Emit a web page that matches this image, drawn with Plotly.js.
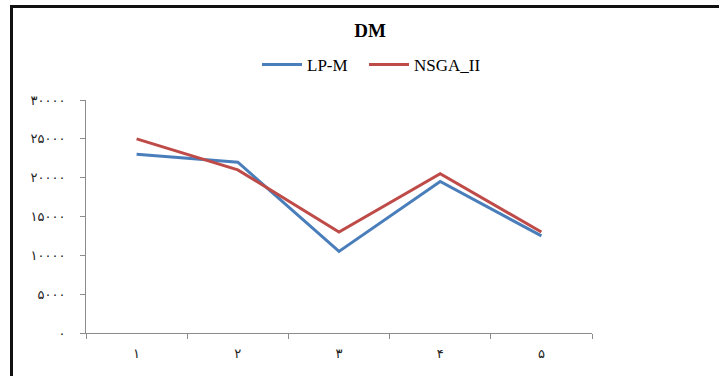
<!DOCTYPE html>
<html>
<head>
<meta charset="utf-8">
<script src="https://cdn.plot.ly/plotly-3.0.1.min.js"></script>
<style>
  html, body { margin: 0; padding: 0; background: #fff; }
  #wrap { position: relative; width: 719px; height: 376px; overflow: hidden; }
  #chart { position: absolute; left: 0; top: 0; width: 719px; height: 376px; }
  #frame { position: absolute; left: 10px; top: 5px; width: 720px; height: 380px;
           border-left: 3px solid #111; border-top: 3px solid #111; pointer-events: none; }
</style>
</head>
<body>
<div id="wrap">
  <div id="chart"></div>
  <div id="frame"></div>
</div>
<script>
// Run numbers (Persian digits on the category axis)
const categories = ['۱', '۲', '۳', '۴', '۵'];
// DM metric for each method
const lpM    = [23000, 22000, 10500, 19500, 12500];
const nsgaII = [25000, 21000, 13000, 20500, 13000];
// Value-axis ticks and their Persian-digit labels
const yTickVals = [0, 5000, 10000, 15000, 20000, 25000, 30000];
const yTickText = ['۰', '۵۰۰۰', '۱۰۰۰۰', '۱۵۰۰۰', '۲۰۰۰۰', '۲۵۰۰۰', '۳۰۰۰۰'];

const traces = [
  { type: 'scatter', mode: 'lines', name: 'LP-M', x: categories, y: lpM,
    line: { color: '#4A7EBB', width: 3 }, legend: 'legend' },
  { type: 'scatter', mode: 'lines', name: 'NSGA_II', x: categories, y: nsgaII,
    line: { color: '#BE4B48', width: 3 }, legend: 'legend2' }
];

// One legend box per series so the two entries can sit at their own positions
function legendAt(xPx) {
  return { orientation: 'h', x: xPx / 719, xref: 'container', xanchor: 'left',
           y: 1 - 65 / 376, yref: 'container', yanchor: 'middle',
           font: { family: 'Liberation Serif', size: 17, color: '#000' },
           bgcolor: 'rgba(0,0,0,0)', itemwidth: 40 };
}

const axisGray = '#8c8c8c';
const layout = {
  width: 719, height: 376,
  margin: { l: 86, r: 127, t: 100, b: 43 },
  paper_bgcolor: '#fff', plot_bgcolor: '#fff',
  showlegend: true,
  title: { text: '<b>DM</b>', x: 370 / 719, xanchor: 'center', xref: 'container',
           y: 1 - 30 / 376, yanchor: 'middle', yref: 'container',
           font: { family: 'Liberation Serif', size: 19, color: '#000' } },
  legend: legendAt(257),
  legend2: legendAt(364),
  xaxis: { type: 'category', range: [-0.5, 4.5], tickson: 'boundaries',
           showline: true, linecolor: axisGray, linewidth: 1,
           ticks: 'outside', ticklen: 5, tickcolor: axisGray,
           ticklabelstandoff: 8,
           showgrid: false, zeroline: false, fixedrange: true,
           tickfont: { family: 'DejaVu Sans', size: 13, color: '#222' } },
  yaxis: { range: [0, 30000], tickvals: yTickVals, ticktext: yTickText,
           showline: true, linecolor: axisGray, linewidth: 1,
           ticks: 'outside', ticklen: 5, tickcolor: axisGray,
           ticklabelstandoff: 12,
           showgrid: false, zeroline: false, fixedrange: true,
           tickfont: { family: 'DejaVu Sans', size: 13, color: '#222' } }
};

Plotly.newPlot('chart', traces, layout, { displayModeBar: false, staticPlot: true });
</script>
</body>
</html>
